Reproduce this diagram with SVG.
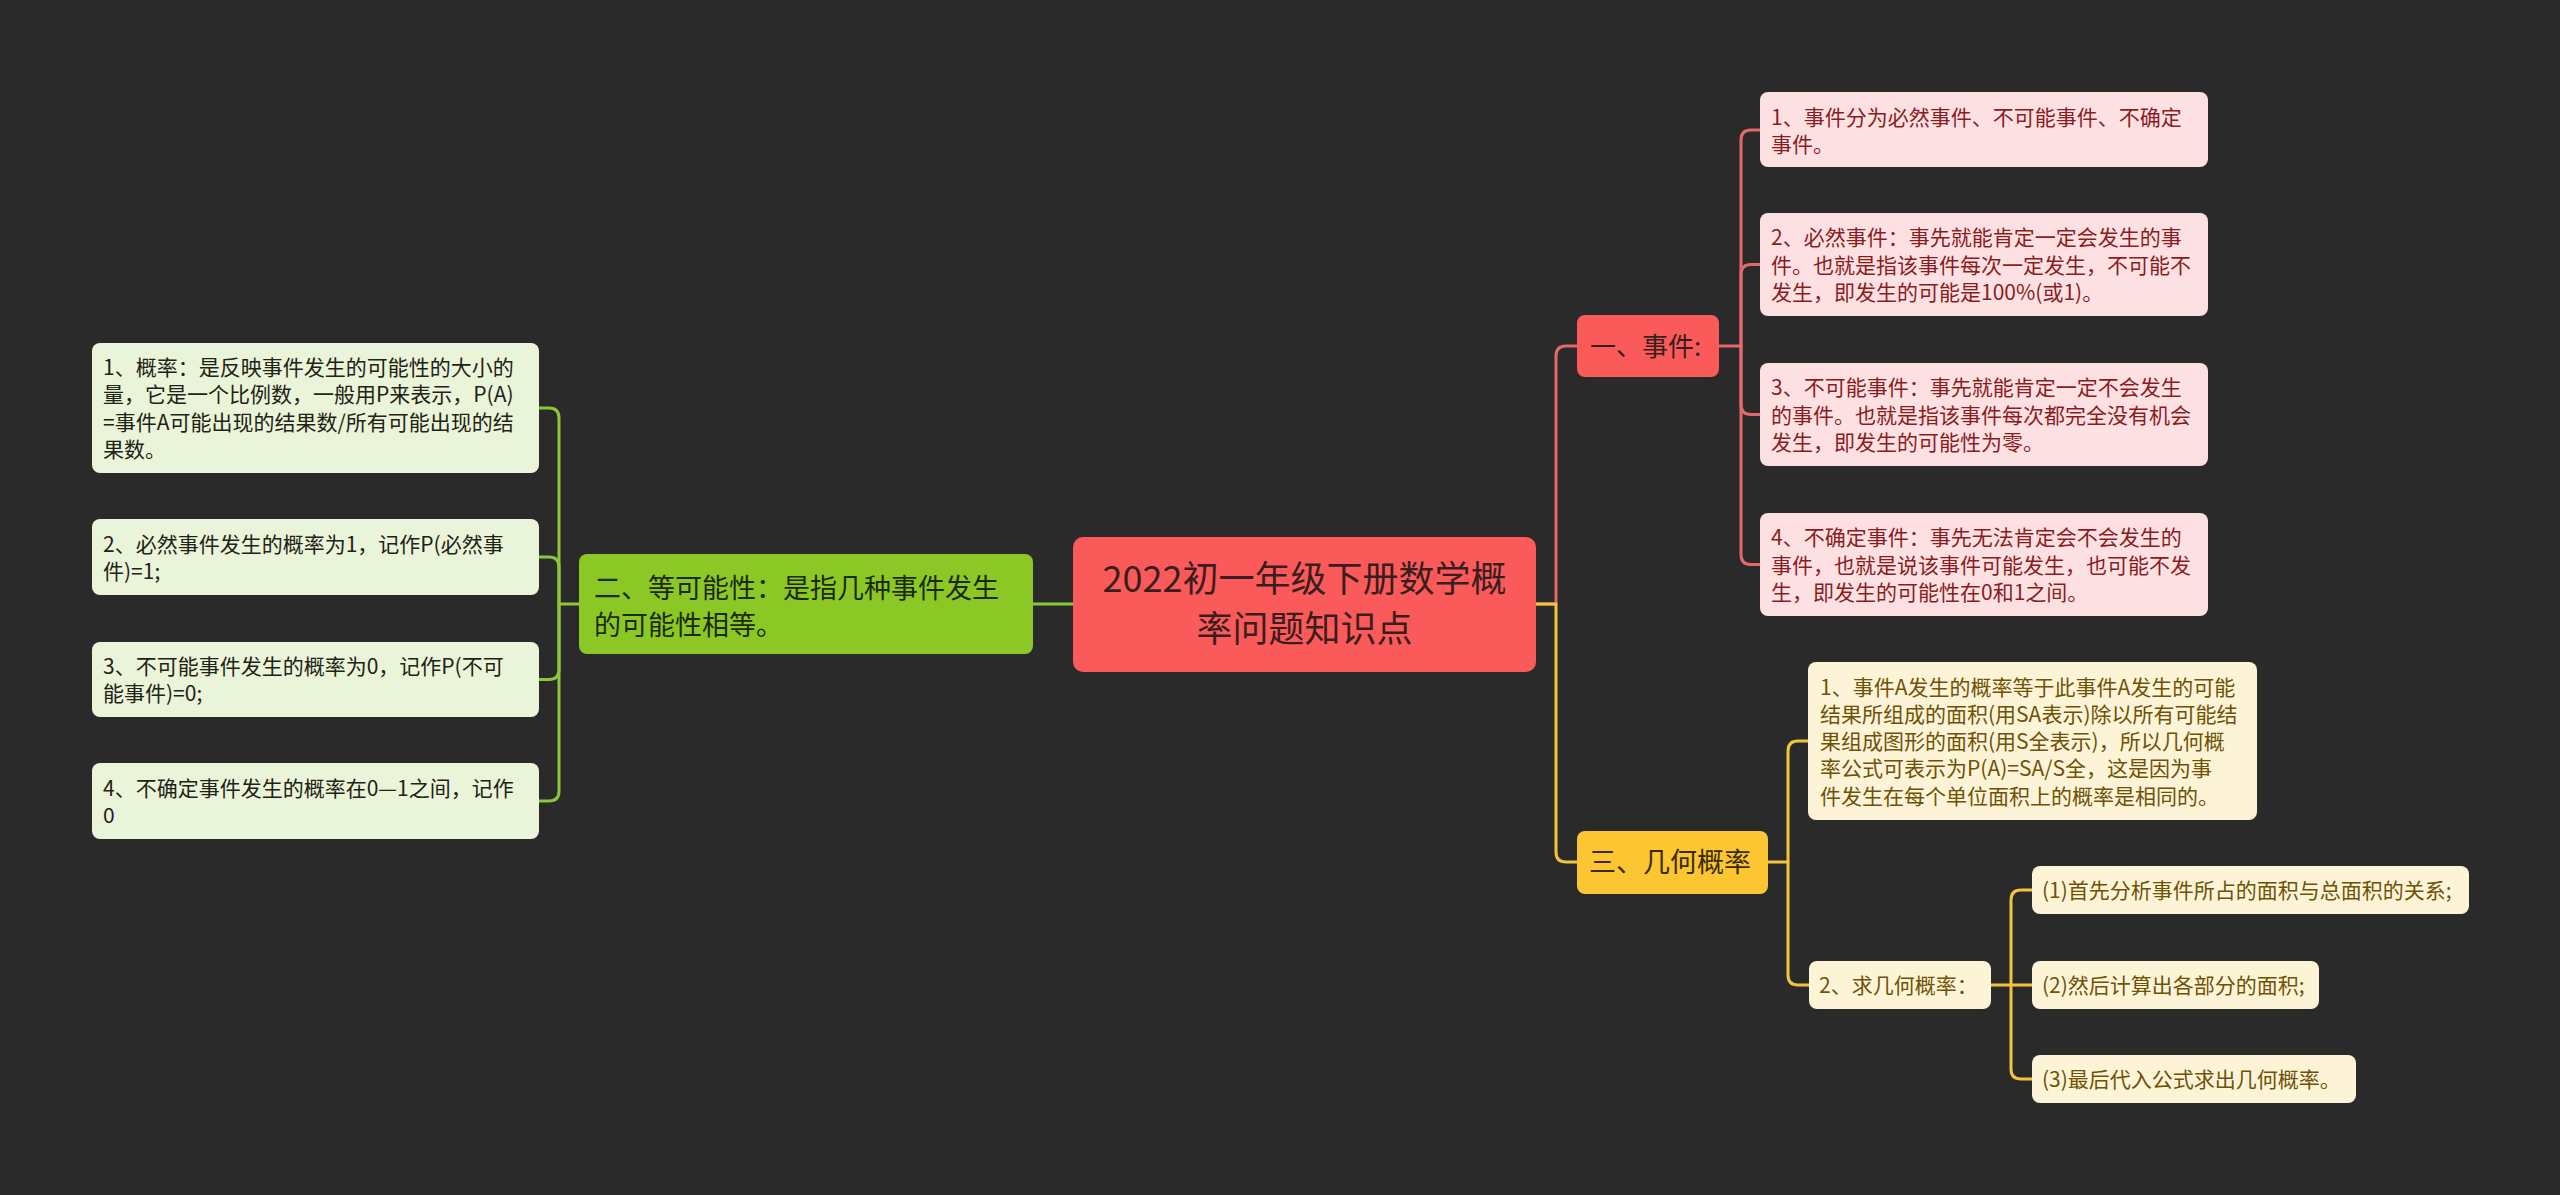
<svg xmlns="http://www.w3.org/2000/svg" width="2560" height="1195" viewBox="0 0 2560 1195">
<style>
text{font-family:"Noto Sans CJK SC","Noto Sans",sans-serif}
.c{fill:none;stroke-width:3;stroke-linecap:round;stroke-linejoin:round}
.red{stroke:#e5686a}
.yel{stroke:#f2c43c}
.grn{stroke:#8cc63a}
.leafR rect{fill:#fde1e2}
.leafR text{fill:#8a1c1f;font-size:21px}
.leafG rect{fill:#eaf4d8}
.leafG text{fill:#1f2216;font-size:21px}
.leafY rect{fill:#fdf4d8}
.leafY text{fill:#6e5206;font-size:21px}
</style>
<rect width="2560" height="1195" fill="#2a2a2a"/>
<g id="connectors">
<path class="c red" d="M1536,604 H1556 V356 Q1556,346 1566,346 H1577"/>
<path class="c yel" d="M1536,604 H1556 V852 Q1556,862 1566,862 H1577"/>
<path class="c red" d="M1719,346 H1741 V140 Q1741,130 1751,130 H1760"/>
<path class="c red" d="M1741,346 V274.5 Q1741,264.5 1751,264.5 H1760"/>
<path class="c red" d="M1741,346 V404.5 Q1741,414.5 1751,414.5 H1760"/>
<path class="c red" d="M1741,346 V554.5 Q1741,564.5 1751,564.5 H1760"/>
<path class="c yel" d="M1768,862 H1788 V751 Q1788,741 1798,741 H1808"/>
<path class="c yel" d="M1788,862 V975 Q1788,985 1798,985 H1809"/>
<path class="c yel" d="M1991,985 H2011 V900 Q2011,890 2021,890 H2032"/>
<path class="c yel" d="M2011,985 H2032"/>
<path class="c yel" d="M2011,985 V1069 Q2011,1079 2021,1079 H2032"/>
<path class="c grn" d="M1073,604 H1033"/>
<path class="c grn" d="M579,604 H559 V418 Q559,408 549,408 H539"/>
<path class="c grn" d="M559,604 V567 Q559,557 549,557 H539"/>
<path class="c grn" d="M559,604 V669.5 Q559,679.5 549,679.5 H539"/>
<path class="c grn" d="M559,604 V791 Q559,801 549,801 H539"/>
</g>
<g id="root">
<rect x="1073" y="537" width="463" height="135" rx="10" fill="#fa5a5a"/>
<text x="1304.5" y="592" font-size="36" fill="#3a1e1e" text-anchor="middle">2022初一年级下册数学概</text>
<text x="1304.5" y="642" font-size="36" fill="#3a1e1e" text-anchor="middle">率问题知识点</text>
</g>
<g id="n-event">
<rect x="1577" y="315" width="142" height="62" rx="8" fill="#fa5a5a"/>
<text x="1590" y="356" font-size="26" fill="#3a1e1e">一、事件:</text>
</g>
<g id="e1" class="leafR">
<rect x="1760" y="92" width="448" height="75" rx="8"/>
<text x="1771" y="125">1、事件分为必然事件、不可能事件、不确定</text>
<text x="1771" y="152">事件。</text>
</g>
<g id="e2" class="leafR">
<rect x="1760" y="213" width="448" height="103" rx="8"/>
<text x="1771" y="245">2、必然事件：事先就能肯定一定会发生的事</text>
<text x="1771" y="272.5">件。也就是指该事件每次一定发生，不可能不</text>
<text x="1771" y="300">发生，即发生的可能是100%(或1)。</text>
</g>
<g id="e3" class="leafR">
<rect x="1760" y="363" width="448" height="103" rx="8"/>
<text x="1771" y="395">3、不可能事件：事先就能肯定一定不会发生</text>
<text x="1771" y="422.5">的事件。也就是指该事件每次都完全没有机会</text>
<text x="1771" y="450">发生，即发生的可能性为零。</text>
</g>
<g id="e4" class="leafR">
<rect x="1760" y="513" width="448" height="103" rx="8"/>
<text x="1771" y="545">4、不确定事件：事先无法肯定会不会发生的</text>
<text x="1771" y="572.5">事件，也就是说该事件可能发生，也可能不发</text>
<text x="1771" y="600">生，即发生的可能性在0和1之间。</text>
</g>
<g id="n-geo">
<rect x="1577" y="831" width="191" height="63" rx="8" fill="#fcc532"/>
<text x="1589" y="872" font-size="27" fill="#3a2c02">三、几何概率</text>
</g>
<g id="g1" class="leafY">
<rect x="1808" y="662" width="449" height="158" rx="8"/>
<text x="1820" y="694.5">1、事件A发生的概率等于此事件A发生的可能</text>
<text x="1820" y="721.8">结果所组成的面积(用SA表示)除以所有可能结</text>
<text x="1820" y="749.1">果组成图形的面积(用S全表示)，所以几何概</text>
<text x="1820" y="776.4">率公式可表示为P(A)=SA/S全，这是因为事</text>
<text x="1820" y="803.7">件发生在每个单位面积上的概率是相同的。</text>
</g>
<g id="g2" class="leafY">
<rect x="1809" y="961" width="182" height="48" rx="8"/>
<text x="1819" y="993">2、求几何概率：</text>
</g>
<g id="g2a" class="leafY">
<rect x="2032" y="866" width="437" height="48" rx="8"/>
<text x="2042" y="898">(1)首先分析事件所占的面积与总面积的关系;</text>
</g>
<g id="g2b" class="leafY">
<rect x="2032" y="961" width="287" height="48" rx="8"/>
<text x="2042" y="993">(2)然后计算出各部分的面积;</text>
</g>
<g id="g2c" class="leafY">
<rect x="2032" y="1055" width="324" height="48" rx="8"/>
<text x="2042" y="1087">(3)最后代入公式求出几何概率。</text>
</g>
<g id="n-equal">
<rect x="579" y="554" width="454" height="100" rx="8" fill="#8bc826"/>
<text x="594" y="598" font-size="27" fill="#1c2a06">二、等可能性：是指几种事件发生</text>
<text x="594" y="635" font-size="27" fill="#1c2a06">的可能性相等。</text>
</g>
<g id="q1" class="leafG">
<rect x="92" y="343" width="447" height="130" rx="8"/>
<text x="103" y="375">1、概率：是反映事件发生的可能性的大小的</text>
<text x="103" y="402.3">量，它是一个比例数，一般用P来表示，P(A)</text>
<text x="103" y="429.6">=事件A可能出现的结果数/所有可能出现的结</text>
<text x="103" y="456.9">果数。</text>
</g>
<g id="q2" class="leafG">
<rect x="92" y="519" width="447" height="76" rx="8"/>
<text x="103" y="551.5">2、必然事件发生的概率为1，记作P(必然事</text>
<text x="103" y="578.8">件)=1;</text>
</g>
<g id="q3" class="leafG">
<rect x="92" y="642" width="447" height="75" rx="8"/>
<text x="103" y="674">3、不可能事件发生的概率为0，记作P(不可</text>
<text x="103" y="701.3">能事件)=0;</text>
</g>
<g id="q4" class="leafG">
<rect x="92" y="763" width="447" height="76" rx="8"/>
<text x="103" y="795.5">4、不确定事件发生的概率在0—1之间，记作</text>
<text x="103" y="822.8">0</text>
</g>
</svg>
